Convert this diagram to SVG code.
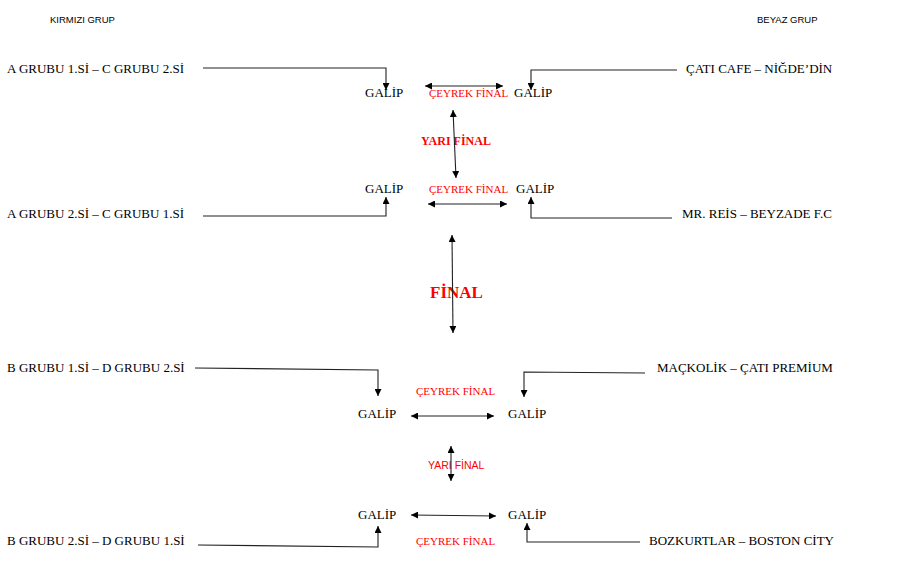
<svg xmlns="http://www.w3.org/2000/svg" width="903" height="571" viewBox="0 0 903 571">
<style>
.t{font-family:"Liberation Serif","Times New Roman",serif;font-size:13px;fill:#000}
.h{font-family:"Liberation Sans",Arial,sans-serif;font-size:9.5px;fill:#000}
.q{font-family:"Liberation Serif","Times New Roman",serif;font-size:11px;fill:#ff0000}
.y{font-family:"Liberation Serif","Times New Roman",serif;font-size:12px;font-weight:bold;fill:#ff0000}
.ys{font-family:"Liberation Sans",Arial,sans-serif;font-size:10.5px;fill:#ff0000}
.f{font-family:"Liberation Serif","Times New Roman",serif;font-size:17px;font-weight:bold;fill:#ff0000}
.c path,.c line,.c polyline{fill:none;stroke:#222;stroke-width:1.1}
</style>
<defs>
<marker id="ah" viewBox="0 0 10 10" refX="10" refY="5" markerWidth="7" markerHeight="7" markerUnits="userSpaceOnUse" orient="auto-start-reverse">
<path d="M0,0 L10,5 L0,10 z" fill="#000"/>
</marker>
</defs>
<g id="headers">
<text class="h" x="50" y="23">KIRMIZI GRUP</text>
<text class="h" x="757" y="23">BEYAZ GRUP</text>
</g>
<g id="team-a1c2"><text class="t" x="7" y="73">A GRUBU 1.Sİ – C GRUBU 2.Sİ</text></g>
<g id="team-cati-nigde"><text class="t" x="686" y="73">ÇATI CAFE – NİĞDE’DİN</text></g>
<g id="team-a2c1"><text class="t" x="7" y="218">A GRUBU 2.Sİ – C GRUBU 1.Sİ</text></g>
<g id="team-mr-beyzade"><text class="t" x="682" y="218">MR. REİS – BEYZADE F.C</text></g>
<g id="team-b1d2"><text class="t" x="7" y="372">B GRUBU 1.Sİ – D GRUBU 2.Sİ</text></g>
<g id="team-mac-cati"><text class="t" x="657" y="372">MAÇKOLİK – ÇATI PREMİUM</text></g>
<g id="team-b2d1"><text class="t" x="7" y="545">B GRUBU 2.Sİ – D GRUBU 1.Sİ</text></g>
<g id="team-bozkurt-boston"><text class="t" x="649" y="545">BOZKURTLAR – BOSTON CİTY</text></g>

<g id="galip-1l"><text class="t" x="365" y="97">GALİP</text></g>
<g id="galip-1r"><text class="t" x="514" y="97">GALİP</text></g>
<g id="galip-2l"><text class="t" x="365" y="193">GALİP</text></g>
<g id="galip-2r"><text class="t" x="516" y="193">GALİP</text></g>
<g id="galip-3l"><text class="t" x="358" y="418">GALİP</text></g>
<g id="galip-3r"><text class="t" x="508" y="418">GALİP</text></g>
<g id="galip-4l"><text class="t" x="358" y="519">GALİP</text></g>
<g id="galip-4r"><text class="t" x="508" y="519">GALİP</text></g>

<g id="labels">
<text class="q" x="429" y="97">ÇEYREK FİNAL</text>
<text class="q" x="429" y="193">ÇEYREK FİNAL</text>
<text class="y" x="421" y="145">YARI FİNAL</text>
<text class="f" x="430" y="298">FİNAL</text>
<text class="q" x="416" y="395">ÇEYREK FİNAL</text>
<text class="ys" x="428" y="469">YARI FİNAL</text>
<text class="q" x="416" y="545">ÇEYREK FİNAL</text>
</g>

<g id="connectors" class="c">
<polyline points="203,68 386,68 386,90" marker-end="url(#ah)"/>
<polyline points="677,70 531,70 531,90" marker-end="url(#ah)"/>
<line x1="425" y1="86" x2="503" y2="86" marker-start="url(#ah)" marker-end="url(#ah)"/>
<line x1="453" y1="110" x2="456" y2="178" marker-start="url(#ah)" marker-end="url(#ah)"/>
<polyline points="203,216 386,216 386,197" marker-end="url(#ah)"/>
<polyline points="672,218 531,218 531,197" marker-end="url(#ah)"/>
<line x1="428" y1="204" x2="507" y2="204" marker-start="url(#ah)" marker-end="url(#ah)"/>
<line x1="452" y1="235" x2="453" y2="333" marker-start="url(#ah)" marker-end="url(#ah)"/>
<polyline points="195,368 378,370 378,396" marker-end="url(#ah)"/>
<polyline points="645,373 524,372 524,397" marker-end="url(#ah)"/>
<line x1="411" y1="416" x2="494" y2="416" marker-start="url(#ah)" marker-end="url(#ah)"/>
<line x1="451" y1="446" x2="451" y2="481" marker-start="url(#ah)" marker-end="url(#ah)"/>
<line x1="411" y1="515" x2="496" y2="516" marker-start="url(#ah)" marker-end="url(#ah)"/>
<polyline points="198,545 378,547 378,526" marker-end="url(#ah)"/>
<polyline points="640,542 527,542 527,523" marker-end="url(#ah)"/>
</g>
</svg>
